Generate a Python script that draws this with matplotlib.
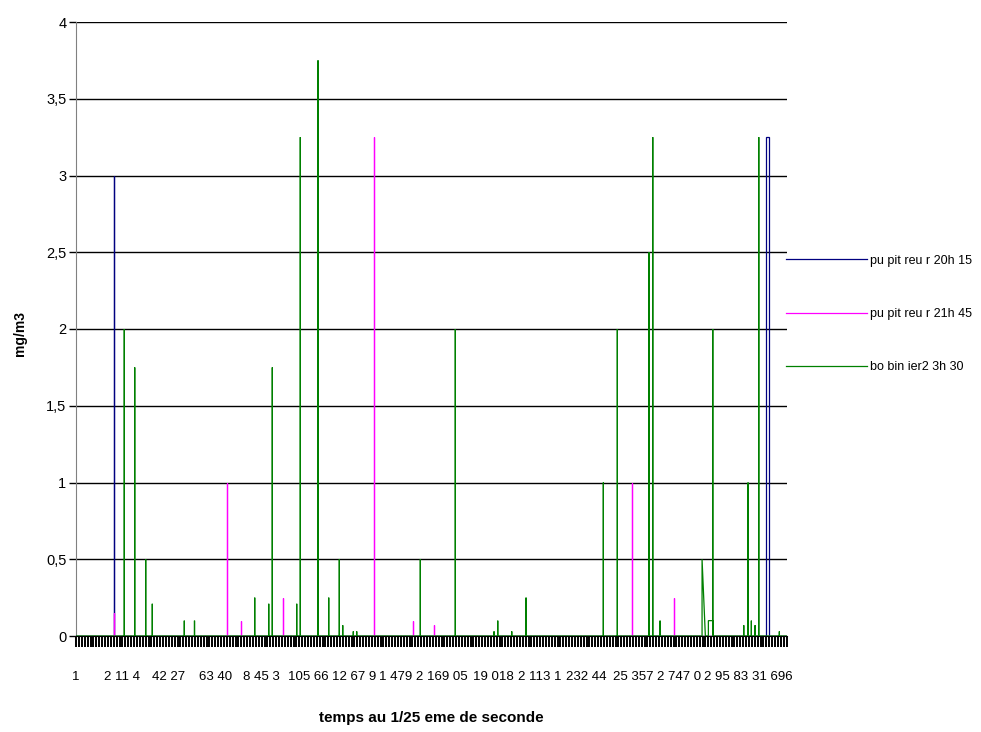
import matplotlib
matplotlib.use("Agg")
import matplotlib.pyplot as plt
import numpy as np

# ---------------- data ----------------
# x tick labels (sample index, 1/25 s) as printed on the chart
label_positions = [1, 2114, 4227, 6340, 8453, 10566, 12679, 14792, 16905,
                   19018, 21131, 23244, 25357, 27470, 29583, 31696]
tick_labels = ["1", "2 11 4", "42 27", "63 40", "8 45 3", "105 66", "12 67 9",
               "1 479 2", "169 05", "19 018", "2 113 1", "232 44", "25 357",
               "2 747 0", "2 95 83", "31 696"]
y_ticks = [0, 0.5, 1, 1.5, 2, 2.5, 3, 3.5, 4]
y_labels = ["0", "0,5", "1", "1,5", "2", "2,5", "3", "3,5", "4"]

series_names = ["pu pit reu r 20h 15", "pu pit reu r 21h 45", "bo bin ier2 3h 30"]

# each reading run: start sample, end sample, value at start, value at end
blue_t0 = [1717, 31403]
blue_t1 = [1717, 31540]
blue_v0 = [3.0, 3.25]
blue_v1 = [3.0, 3.25]

magenta_t0 = [1717, 6862, 7500, 9412, 13583, 15358, 16314, 25302, 27228]
magenta_t1 = [1717, 6862, 7500, 9412, 13583, 15358, 16314, 25302, 27228]
magenta_v0 = [0.15, 1.0, 0.1, 0.25, 3.25, 0.1, 0.07, 1.0, 0.25]
magenta_v1 = [0.15, 1.0, 0.1, 0.25, 3.25, 0.1, 0.07, 1.0, 0.25]

green_t0 = [2200, 2674, 3174, 3475, 4932, 5396, 8137, 8775, 8938, 10049, 10213,
            11019, 11506, 11989, 12144, 12626, 12781, 15677, 17270, 19033, 19201,
            19838, 20490, 24009, 24646, 26090, 26258, 26591, 28503, 28790, 28990,
            30401, 30597, 30748, 30916, 31084, 32022]
green_t1 = [2200, 2674, 3174, 3475, 4932, 5396, 8137, 8775, 8938, 10049, 10213,
            11019, 11506, 11989, 12144, 12626, 12781, 15677, 17270, 19033, 19201,
            19838, 20490, 24009, 24646, 26090, 26258, 26591, 28653, 29017, 28990,
            30401, 30597, 30748, 30916, 31084, 32022]
green_v0 = [2.0, 1.75, 0.5, 0.21, 0.1, 0.1, 0.25, 0.21, 1.75, 0.21, 3.25,
            3.75, 0.25, 0.5, 0.07, 0.03, 0.03, 0.5, 2.0, 0.03, 0.1,
            0.03, 0.25, 1.0, 2.0, 2.5, 3.25, 0.1, 0.5, 0.1, 2.0,
            0.07, 1.0, 0.1, 0.07, 3.25, 0.03]
green_v1 = [2.0, 1.75, 0.5, 0.21, 0.1, 0.1, 0.25, 0.21, 1.75, 0.21, 3.25,
            3.75, 0.25, 0.5, 0.07, 0.03, 0.03, 0.5, 2.0, 0.03, 0.1,
            0.03, 0.25, 1.0, 2.0, 2.5, 3.25, 0.1, 0.0, 0.1, 2.0,
            0.07, 1.0, 0.1, 0.07, 3.25, 0.03]

x_first, x_last = 1, 32370
tick_step = 2113 / 16

plt.rcParams["font.family"] = ["Liberation Sans", "DejaVu Sans"]


def trace(t0, t1, v0, v1):
    xs, ys = [x_first], [0.0]
    for a, b, p, q in sorted(zip(t0, t1, v0, v1)):
        xs += [a, a, b, b]
        ys += [0.0, p, q, 0.0]
    xs.append(x_last)
    ys.append(0.0)
    return xs, ys


fig = plt.figure(figsize=(9.81, 7.32), dpi=100)
ax = fig.add_axes([76 / 981, 1 - 636 / 732, 711 / 981, 614 / 732])

colors = ["#000080", "#FF00FF", "#008000"]
runs = [(blue_t0, blue_t1, blue_v0, blue_v1),
        (magenta_t0, magenta_t1, magenta_v0, magenta_v1),
        (green_t0, green_t1, green_v0, green_v1)]
for (t0, t1, v0, v1), c, nm in zip(runs, colors, series_names):
    xs, ys = trace(t0, t1, v0, v1)
    ax.plot(xs, ys, color=c, lw=0.9, label=nm, solid_joinstyle="miter", zorder=3)

ax.set_xlim(x_first, x_last)
ax.set_ylim(0, 4)

ax.set_yticks(y_ticks)
ax.set_yticklabels(y_labels, fontsize=10.5)
ax.yaxis.grid(True, color="black", lw=1.0)
ax.set_axisbelow(True)
ax.tick_params(axis="y", direction="out", length=5, width=1, color="black", pad=2)

ax.set_xticks(label_positions)
ax.set_xticklabels(tick_labels, fontsize=9.5)
ax.set_xticks(np.arange(x_first, x_last, tick_step), minor=True)
ax.tick_params(axis="x", which="both", direction="out", length=8, width=1.4,
               color="black")
ax.tick_params(axis="x", which="major", pad=17)

for s in ("top", "right"):
    ax.spines[s].set_visible(False)
ax.spines["left"].set_color("#808080")
ax.spines["bottom"].set_color("black")

fig.text(20 / 981, 1 - 333 / 732, "mg/m3", rotation=90, ha="center", va="center",
         fontsize=10, fontweight="bold")
fig.text(431 / 981, 1 - 718 / 732, "temps au 1/25 eme de seconde", ha="center",
         va="center", fontsize=11, fontweight="bold")

leg = fig.legend(loc="center left", bbox_to_anchor=(786 / 981, 1 - 314 / 732),
                 frameon=False, borderaxespad=0, borderpad=0, handlelength=6.5,
                 handletextpad=0.25, labelspacing=3.3,
                 prop={"size": 9})

fig.savefig("out.png", dpi=100)
